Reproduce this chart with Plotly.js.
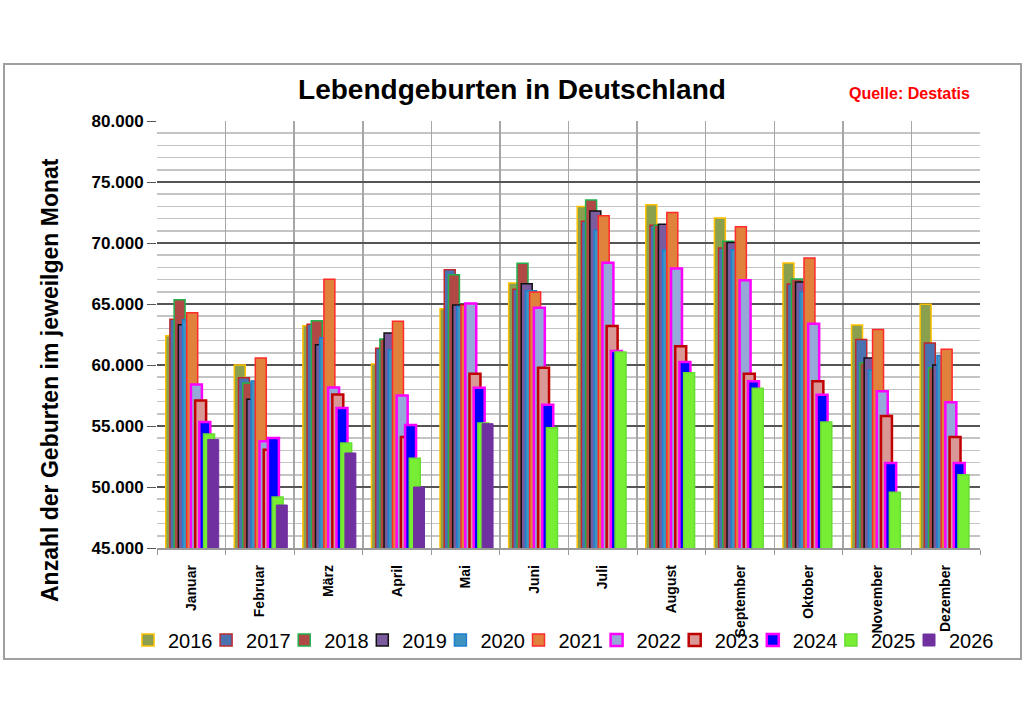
<!DOCTYPE html>
<html>
<head>
<meta charset="utf-8">
<script src="https://cdn.plot.ly/plotly-3.0.1.min.js"></script>
<style>html,body{margin:0;padding:0;background:#fff;}#chart{width:1024px;height:724px;}</style>
</head>
<body>
<div id="chart"></div>
<script>
const months = ['Januar','Februar','März','April','Mai','Juni','Juli','August','September','Oktober','November','Dezember'];
const years = ['2016','2017','2018','2019','2020','2021','2022','2023','2024','2025','2026'];

const v2016 = [62400, 60000, 63220, 60080, 64620, 66720, 73000, 73140, 72050, 68360, 63280, 64970];
const v2017 = [63740, 58960, 63330, 61370, 67810, 66200, 71780, 71450, 69590, 66640, 62100, 61800];
const v2018 = [65350, 58520, 63630, 62130, 67400, 68330, 73530, 71450, 70140, 67050, 60190, 59780];
const v2019 = [63300, 57190, 61670, 62620, 64920, 66660, 72620, 71530, 70050, 66800, 60570, 60000];
const v2020 = [63700, 58690, 62240, 61260, 64800, 66090, 71040, 69450, 69450, 65980, 59590, 60770];
const v2021 = [64290, 60570, 67020, 63580, 64900, 65980, 72240, 72490, 71340, 68770, 62900, 61290];
const v2022 = [58400, 53740, 58160, 57490, 65050, 64700, 68390, 67920, 66940, 63390, 57840, 56940];
const v2023 = [57100, 53060, 57590, 54100, 59290, 59780, 63200, 61530, 59290, 58660, 55820, 54100];
const v2024 = [55330, 54020, 56470, 55080, 58140, 56750, 61150, 60250, 58660, 57570, 51970, 51970];
const v2025 = [54350, 49180, 53610, 52350, 55250, 54860, 61070, 59370, 58090, 55330, 49560, 51010];
const v2026 = [53900, 48525, 52790, 50000, 55190, null, null, null, null, null, null, null];

const series = [v2016, v2017, v2018, v2019, v2020, v2021, v2022, v2023, v2024, v2025, v2026];

const fills   = ['#8BA04F','#4A72B0','#B04845','#7A5B9E','#3E93BF','#E0823C','#95A8D8','#D99795','#0000FF','#77EE33','#7030A0'];
const borders = ['#FFC000','#C0282D','#22B14C','#111111','#1F7FD0','#FF2A2A','#FF00FF','#C00000','#FF00FF','#66DD33','#7030A0'];
const lw      = [1.5, 1.5, 1.5, 1.5, 1.5, 1.5, 2.5, 2.5, 2.5, 1.5, 1];

const FONT = 'Liberation Sans, Arial, sans-serif';

const legendId = i => (i === 0 ? 'legend' : 'legend' + (i + 1));

const traces = series.map((vals, i) => ({
  type: 'bar',
  name: years[i],
  x: months,
  y: vals,
  width: 0.16,
  offset: -0.373 + i * 0.0613,
  marker: {color: fills[i], line: {color: borders[i], width: lw[i]}},
  legend: legendId(i),
  hoverinfo: 'x+y+name'
}));

const layout = {
  width: 1024, height: 724,
  margin: {l: 157, r: 44, t: 121, b: 176},
  paper_bgcolor: '#ffffff', plot_bgcolor: '#ffffff',
  barmode: 'overlay',
  separators: ',.',
  font: {family: FONT, color: '#000'},
  title: {text: 'Lebendgeburten in Deutschland', x: 0.5, xref: 'container', xanchor: 'center',
          y: 1 - 89/724, yref: 'container', yanchor: 'middle',
          font: {family: FONT, size: 28, weight: 'bold', color: '#000'}},
  xaxis: {
    type: 'category',
    tickangle: -90,
    tickfont: {family: FONT, size: 14, weight: 'bold', color: '#000'},
    ticklabelstandoff: 10,
    tickson: 'boundaries',
    ticks: 'outside', ticklen: 5, tickcolor: '#999',
    showgrid: true, gridcolor: '#a6a6a6', gridwidth: 1.5,
    showline: true, linecolor: '#999', linewidth: 1.5,
    mirror: false,
    zeroline: false,
    fixedrange: true
  },
  yaxis: {
    range: [45000, 80000],
    dtick: 5000, tick0: 45000,
    tickformat: ',d',
    tickfont: {family: FONT, size: 17, weight: 'bold', color: '#000'},
    ticks: 'outside', ticklen: 9, tickcolor: '#555',
    showgrid: true, gridcolor: '#555555', gridwidth: 1.5,
    minor: {dtick: 1000, tick0: 45000, showgrid: true, gridcolor: '#c4c4c4', gridwidth: 1.5},
    showline: false, zeroline: false,
    fixedrange: true
  },
  showlegend: true,
  annotations: [
    {text: 'Quelle: Destatis', xref: 'paper', yref: 'paper',
     x: (909 - 157) / 823, y: (548 - 94) / 427, xanchor: 'center', yanchor: 'middle',
     showarrow: false, font: {family: FONT, size: 16, weight: 'bold', color: '#FF0000'}},
    {text: 'Anzahl der Geburten im jeweilgen Monat', xref: 'paper', yref: 'paper',
     x: (50 - 157) / 823, y: (548 - 380) / 427, xanchor: 'center', yanchor: 'middle',
     textangle: -90, showarrow: false,
     font: {family: FONT, size: 23, weight: 'bold', color: '#000'}}
  ],
  shapes: [
    {type: 'rect', xref: 'paper', yref: 'paper',
     x0: (4 - 157) / 823, x1: (1021 - 157) / 823,
     y0: (548 - 659) / 427, y1: (548 - 64) / 427,
     line: {color: '#a0a0a0', width: 2}, fillcolor: 'rgba(0,0,0,0)', layer: 'below'}
  ]
};

// one legend box per year, spaced like the reference legend row
years.forEach((yr, i) => {
  layout[legendId(i)] = {
    orientation: 'h',
    xref: 'container', yref: 'container',
    x: (128 + 78.1 * i) / 1024, xanchor: 'left',
    y: 1 - 640 / 724, yanchor: 'middle',
    font: {family: FONT, size: 20, color: '#000'},
    bgcolor: 'rgba(0,0,0,0)'
  };
});

Plotly.newPlot('chart', traces, layout, {displayModeBar: false, staticPlot: true});
</script>
</body>
</html>
